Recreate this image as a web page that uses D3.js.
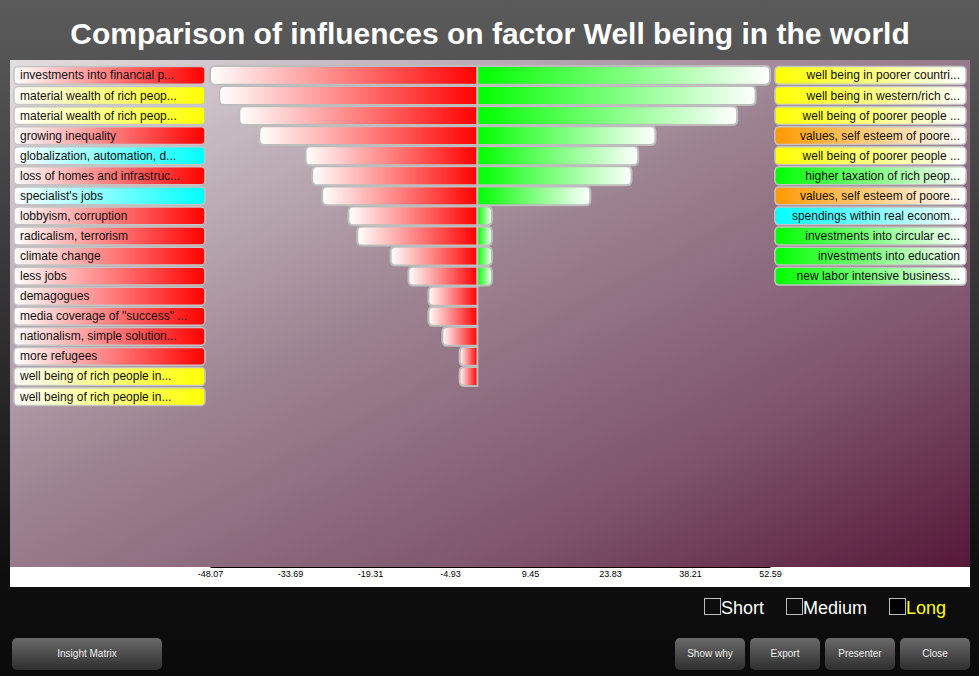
<!DOCTYPE html>
<html><head><meta charset="utf-8">
<script src="https://cdn.jsdelivr.net/npm/d3@7"></script>
<style>html,body{margin:0;padding:0;background:#0b0b0b;overflow:hidden}svg{display:block}</style>
</head><body><svg id="c" width="979" height="676"></svg>
<script>
const titleText = "Comparison of influences on factor Well being in the world";
const leftLabels = ["investments into financial p...","material wealth of rich peop...","material wealth of rich peop...","growing inequality","globalization, automation, d...","loss of homes and infrastruc...","specialist's jobs","lobbyism, corruption","radicalism, terrorism","climate change","less jobs","demagogues","media coverage of \"success\" ...","nationalism, simple solution...","more refugees","well being of rich people in...","well being of rich people in..."];
const leftColors = ["red","yellow","yellow","red","cyan","red","cyan","red","red","red","red","red","red","red","red","yellow","yellow"];
const leftValues = [-48.07,-46.4,-42.8,-39.2,-30.9,-29.7,-27.9,-23.2,-21.6,-15.6,-12.4,-8.8,-8.8,-6.3,-3.2,-3.2,0];
const rightLabels = ["well being in poorer countri...","well being in western/rich c...","well being of poorer people ...","values, self esteem of poore...","well being of poorer people ...","higher taxation of rich peop...","values, self esteem of poore...","spendings within real econom...","investments into circular ec...","investments into education","new labor intensive business..."];
const rightColors = ["yellow","yellow","yellow","orange","yellow","green","orange","cyan","green","green","green"];
const rightValues = [52.59,50.0,46.7,32.0,28.9,27.7,20.3,2.6,2.6,2.6,2.6];
const tickValues = [-48.07,-33.69,-19.31,-4.93,9.45,23.83,38.21,52.59];
const legendItems = ["Short","Medium","Long"];
const leftButtons = ["Insight Matrix"];
const rightButtons = ["Show why","Export","Presenter","Close"];

const colorMap = {red:"#ff0000",yellow:"#ffff00",cyan:"#00ffff",orange:"#ff9900",green:"#00ff00"};
const FONT = "'Liberation Sans', Arial, Helvetica, sans-serif";

const svg = d3.select("#c");
const defs = svg.append("defs");

// page background
const pg = defs.append("linearGradient").attr("id","pageBg").attr("x1",0).attr("y1",0).attr("x2",0).attr("y2",1);
pg.append("stop").attr("offset","0").attr("stop-color","#5a5a5a");
pg.append("stop").attr("offset","0.08").attr("stop-color","#555");
pg.append("stop").attr("offset","0.85").attr("stop-color","#0e0e0e");
pg.append("stop").attr("offset","1").attr("stop-color","#0a0a0a");
svg.append("rect").attr("width",979).attr("height",676).attr("fill","url(#pageBg)");

// chart background
const cb = defs.append("linearGradient").attr("id","chartBg").attr("x1",0).attr("y1",0).attr("x2",1).attr("y2",1);
cb.append("stop").attr("offset","0").attr("stop-color","#e2dfe0");
cb.append("stop").attr("offset","0.45").attr("stop-color","#9c8290");
cb.append("stop").attr("offset","0.75").attr("stop-color","#7e546c");
cb.append("stop").attr("offset","1").attr("stop-color","#561838");
svg.append("rect").attr("x",10).attr("y",60).attr("width",960).attr("height",507).attr("fill","url(#chartBg)");
svg.append("rect").attr("x",10).attr("y",567).attr("width",960).attr("height",20).attr("fill","#ffffff");

// title
svg.append("text").attr("x",490).attr("y",44).attr("text-anchor","middle")
  .attr("font-family",FONT).attr("font-weight","bold").attr("font-size",30).attr("fill","#fff").text(titleText);

// scales
const x = d3.scaleLinear().domain([tickValues[0], tickValues[tickValues.length-1]]).range([210,770]);
const nRows = Math.max(leftLabels.length, rightLabels.length);
const y = d3.scaleBand().domain(d3.range(nRows)).range([66, 66 + nRows*20]).paddingInner(0.06).paddingOuter(0);

// gradients for bars
const gl = defs.append("linearGradient").attr("id","barLeft");
gl.append("stop").attr("offset","0").attr("stop-color","#ffffff");
gl.append("stop").attr("offset","1").attr("stop-color","#ff0000");
const gr = defs.append("linearGradient").attr("id","barRight");
gr.append("stop").attr("offset","0").attr("stop-color","#00ff00");
gr.append("stop").attr("offset","1").attr("stop-color","#ffffff");

// gradients for labels
Object.keys(colorMap).forEach(k => {
  const a = defs.append("linearGradient").attr("id","lab-l-"+k);
  a.append("stop").attr("offset","0").attr("stop-color","#ffffff");
  a.append("stop").attr("offset","1").attr("stop-color",colorMap[k]);
  const b = defs.append("linearGradient").attr("id","lab-r-"+k);
  b.append("stop").attr("offset","0").attr("stop-color",colorMap[k]);
  b.append("stop").attr("offset","1").attr("stop-color","#ffffff");
});

function roundedSide(x0, x1, y0, h, r, side) {
  const w = x1 - x0;
  r = Math.min(r, w/2, h/2);
  if (w <= 0) return "";
  if (side === "left") {
    return `M${x1},${y0} L${x0+r},${y0} Q${x0},${y0} ${x0},${y0+r} L${x0},${y0+h-r} Q${x0},${y0+h} ${x0+r},${y0+h} L${x1},${y0+h} Z`;
  }
  return `M${x0},${y0} L${x1-r},${y0} Q${x1},${y0} ${x1},${y0+r} L${x1},${y0+h-r} Q${x1},${y0+h} ${x1-r},${y0+h} L${x0},${y0+h} Z`;
}

const bh = y.bandwidth();
svg.append("g").selectAll("path").data(leftValues.map((v,i)=>({v,i})).filter(d=>d.v<0)).join("path")
  .attr("d", d => roundedSide(x(d.v), x(0), y(d.i), bh, 5, "left"))
  .attr("fill","url(#barLeft)").attr("stroke","#bdbdbd").attr("stroke-width",2);
svg.append("g").selectAll("path").data(rightValues.map((v,i)=>({v,i})).filter(d=>d.v>0)).join("path")
  .attr("d", d => roundedSide(x(0), x(d.v), y(d.i), bh, 5, "right"))
  .attr("fill","url(#barRight)").attr("stroke","#bdbdbd").attr("stroke-width",2);

// left labels
const lg = svg.append("g").selectAll("g").data(leftLabels.map((t,i)=>({t,i,c:leftColors[i]}))).join("g");
lg.append("rect").attr("x",14).attr("y",d=>y(d.i)+0.5).attr("width",191).attr("height",bh-1).attr("rx",4)
  .attr("fill",d=>`url(#lab-l-${d.c})`).attr("stroke","#c4c4c4").attr("stroke-width",1.5);
lg.append("text").attr("x",20).attr("y",d=>y(d.i)+bh/2+4).attr("font-family",FONT).attr("font-size",12)
  .attr("fill","#111").text(d=>d.t);

// right labels
const rg = svg.append("g").selectAll("g").data(rightLabels.map((t,i)=>({t,i,c:rightColors[i]}))).join("g");
rg.append("rect").attr("x",775).attr("y",d=>y(d.i)+0.5).attr("width",191).attr("height",bh-1).attr("rx",4)
  .attr("fill",d=>`url(#lab-r-${d.c})`).attr("stroke","#c4c4c4").attr("stroke-width",1.5);
rg.append("text").attr("x",960).attr("y",d=>y(d.i)+bh/2+4).attr("text-anchor","end").attr("font-family",FONT).attr("font-size",12)
  .attr("fill","#111").text(d=>d.t);

// axis
const axis = d3.axisBottom(x).tickValues(tickValues).tickSize(0).tickPadding(4).tickFormat(d => d.toFixed(2));
const ax = svg.append("g").attr("transform","translate(0,567)").call(axis);
ax.select(".domain").attr("stroke","#000").attr("stroke-width",1);
ax.selectAll("text").attr("font-family",FONT).attr("font-size",9).attr("fill","#000");

// legend
const legX = [704, 786, 889];
legendItems.forEach((t,i) => {
  svg.append("rect").attr("x",legX[i]+0.5).attr("y",598.5).attr("width",16).attr("height",16)
    .attr("fill", i===2 ? "#000" : "none").attr("stroke","#bbb").attr("stroke-width",1);
  svg.append("text").attr("x",legX[i]+17).attr("y",614).attr("font-family",FONT).attr("font-size",18)
    .attr("fill", i===2 ? "#ffff00" : "#fff").text(t);
});

// buttons
const bgr = defs.append("linearGradient").attr("id","btn").attr("x1",0).attr("y1",0).attr("x2",0).attr("y2",1);
bgr.append("stop").attr("offset","0").attr("stop-color","#6a6a6a");
bgr.append("stop").attr("offset","1").attr("stop-color","#2e2e2e");
const buttons = [{t:leftButtons[0],x:12,w:150}].concat(rightButtons.map((t,i)=>({t,x:675+i*75,w:70})));
buttons.forEach(b => {
  svg.append("rect").attr("x",b.x).attr("y",638).attr("width",b.w).attr("height",32).attr("rx",5).attr("fill","url(#btn)");
  svg.append("text").attr("x",b.x+b.w/2).attr("y",657).attr("text-anchor","middle").attr("font-family",FONT)
    .attr("font-size",10).attr("fill","#eee").text(b.t);
});
</script></body></html>
